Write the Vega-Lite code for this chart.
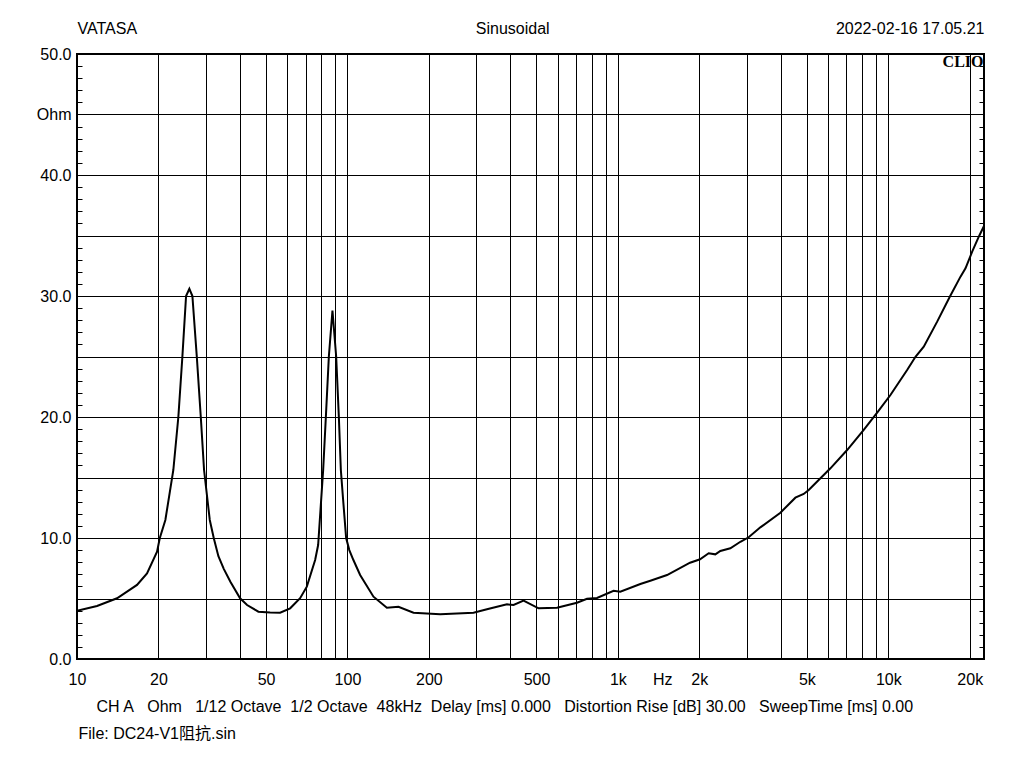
{
  "$schema": "https://vega.github.io/schema/vega-lite/v6.json",
  "autosize": {"type": "none"},
  "width": 907,
  "height": 605,
  "padding": {"left": 77, "top": 54, "right": 40, "bottom": 109},
  "background": "white",
  "config": {
    "view": {"stroke": "black", "strokeWidth": 2},
    "font": "Liberation Sans",
    "axis": {"labelFont": "Liberation Sans", "labelFontSize": 16, "labelColor": "black", "titleColor": "black", "gridColor": "black", "gridOpacity": 1, "gridWidth": 1, "tickColor": "black"}
  },
  "data": {"values": [
    {"f": 10, "z": 3.99}, {"f": 11.86, "z": 4.38}, {"f": 14.06, "z": 5.02}, {"f": 16.67, "z": 6.12},
    {"f": 18.15, "z": 7.08}, {"f": 19.77, "z": 8.87}, {"f": 20.23, "z": 9.98}, {"f": 21.22, "z": 11.49},
    {"f": 22.71, "z": 15.62}, {"f": 23.7, "z": 20.0}, {"f": 24.53, "z": 25.0}, {"f": 25.31, "z": 30.0},
    {"f": 26.03, "z": 30.6}, {"f": 26.71, "z": 30.0}, {"f": 27.73, "z": 25.0}, {"f": 28.69, "z": 20.0},
    {"f": 29.5, "z": 15.62}, {"f": 30.97, "z": 11.49}, {"f": 32.05, "z": 9.98}, {"f": 33.33, "z": 8.5},
    {"f": 34.89, "z": 7.45}, {"f": 36.91, "z": 6.39}, {"f": 40.09, "z": 5.02}, {"f": 42.55, "z": 4.46},
    {"f": 46.85, "z": 3.91}, {"f": 51.76, "z": 3.84}, {"f": 56.36, "z": 3.83}, {"f": 61.4, "z": 4.19},
    {"f": 66.83, "z": 5.02}, {"f": 70.76, "z": 5.98}, {"f": 75.95, "z": 8.18}, {"f": 77.92, "z": 9.42},
    {"f": 81.32, "z": 15.62}, {"f": 83.21, "z": 20.0}, {"f": 85.36, "z": 25.0}, {"f": 88.02, "z": 28.8},
    {"f": 90.84, "z": 25.0}, {"f": 92.95, "z": 20.0}, {"f": 94.54, "z": 15.62}, {"f": 96.4, "z": 13.14},
    {"f": 98.9, "z": 10.0}, {"f": 101.6, "z": 9.0}, {"f": 105.2, "z": 8.18}, {"f": 111.4, "z": 6.94}, {"f": 124.8, "z": 5.15},
    {"f": 139.9, "z": 4.24}, {"f": 154.4, "z": 4.32}, {"f": 175.5, "z": 3.83}, {"f": 220.3, "z": 3.69},
    {"f": 292.5, "z": 3.83}, {"f": 328.0, "z": 4.11}, {"f": 388.9, "z": 4.52}, {"f": 411.3, "z": 4.46},
    {"f": 447.8, "z": 4.82}, {"f": 508.9, "z": 4.19}, {"f": 595.3, "z": 4.24}, {"f": 705.8, "z": 4.65},
    {"f": 768.8, "z": 4.98}, {"f": 837.1, "z": 5.04}, {"f": 964.0, "z": 5.64}, {"f": 1020.7, "z": 5.56},
    {"f": 1210.6, "z": 6.2}, {"f": 1318.3, "z": 6.47}, {"f": 1519.6, "z": 6.94}, {"f": 1848.4, "z": 7.96},
    {"f": 2012.9, "z": 8.24}, {"f": 2166, "z": 8.74}, {"f": 2292.6, "z": 8.65}, {"f": 2392.5, "z": 8.93},
    {"f": 2605, "z": 9.15}, {"f": 2837.6, "z": 9.69}, {"f": 3045, "z": 10.06}, {"f": 3364, "z": 10.88},
    {"f": 3989, "z": 12.09}, {"f": 4532, "z": 13.33}, {"f": 4864, "z": 13.64}, {"f": 5077, "z": 13.97},
    {"f": 5527, "z": 14.79}, {"f": 6107, "z": 15.76}, {"f": 7041, "z": 17.27}, {"f": 8110, "z": 18.93},
    {"f": 9092, "z": 20.36}, {"f": 10181, "z": 21.82}, {"f": 11736, "z": 23.88}, {"f": 12600, "z": 24.98},
    {"f": 13521, "z": 25.81}, {"f": 15156, "z": 27.88}, {"f": 16876, "z": 29.94}, {"f": 18486, "z": 31.6},
    {"f": 19290, "z": 32.29}, {"f": 20418, "z": 33.66}, {"f": 21602, "z": 34.9}, {"f": 22580, "z": 35.8}
  ]},
  "layer": [
    {
      "mark": {"type": "line", "color": "black", "strokeWidth": 2, "clip": true},
      "encoding": {
        "x": {
          "field": "f", "type": "quantitative",
          "scale": {"type": "log", "domain": [10, 22580], "nice": false},
          "axis": {
            "orient": "bottom",
            "values": [10, 20, 30, 40, 50, 60, 70, 80, 90, 100, 200, 300, 400, 500, 600, 700, 800, 900, 1000, 1460, 2000, 3000, 4000, 5000, 6000, 7000, 8000, 9000, 10000, 20000],
            "labelExpr": "indexof([10,20,50,100,200,500], datum.value) >= 0 ? '' + datum.value : indexof([1000,2000,5000,10000,20000], datum.value) >= 0 ? (datum.value / 1000) + 'k' : datum.value == 1460 ? 'Hz' : ''",
            "grid": true,
            "gridOpacity": {"condition": {"test": "datum.value == 1460", "value": 0}, "value": 1},
            "ticks": false,
            "domain": false,
            "labelFlush": false,
            "labelOverlap": false,
            "labelBound": false,
            "labelPadding": 12,
            "title": "CH A\u00a0\u00a0\u00a0Ohm\u00a0\u00a0\u00a01/12 Octave\u00a0\u00a01/2 Octave\u00a0\u00a048kHz\u00a0\u00a0Delay [ms] 0.000\u00a0\u00a0\u00a0Distortion Rise [dB] 30.00\u00a0\u00a0\u00a0SweepTime [ms] 0.00",
            "titleX": 19,
            "titleY": 52,
            "titleAlign": "left",
            "titleBaseline": "alphabetic",
            "titleFont": "Liberation Sans",
            "titleFontSize": 16,
            "titleFontWeight": "normal"
          }
        },
        "y": {
          "field": "z", "type": "quantitative",
          "scale": {"domain": [0, 50], "nice": false},
          "axis": {
            "orient": "left",
            "values": [0,1,2,3,4,5,6,7,8,9,10,11,12,13,14,15,16,17,18,19,20,21,22,23,24,25,26,27,28,29,30,31,32,33,34,35,36,37,38,39,40,41,42,43,44,45,46,47,48,49,50],
            "labelExpr": "datum.value == 45 ? 'Ohm' : datum.value % 10 == 0 ? format(datum.value, '.1f') : ''",
            "grid": true,
            "gridOpacity": {"condition": {"test": "datum.value % 5 != 0", "value": 0}, "value": 1},
            "ticks": true,
            "tickSize": -5,
            "tickWidth": 1,
            "domain": false,
            "labelPadding": 11,
            "labelOverlap": false,
            "labelBound": false,
            "labelFlush": false,
            "title": null
          }
        }
      }
    },
    {
      "mark": {"type": "point", "opacity": 0},
      "encoding": {
        "x": {
          "field": "f", "type": "quantitative",
          "scale": {"type": "log", "domain": [10, 22580], "nice": false},
          "axis": {
            "orient": "top",
            "values": [10, 406.8, 22580],
            "labelExpr": "datum.value < 20 ? 'VATASA' : datum.value > 20000 ? '2022-02-16 17.05.21' : 'Sinusoidal'",
            "labelFlush": true,
            "labelOverlap": false,
            "labelBound": false,
            "ticks": false,
            "grid": false,
            "domain": false,
            "labelPadding": 18,
            "title": "File: DC24-V1阻抗.sin",
            "titleX": 1,
            "titleY": 684,
            "titleAlign": "left",
            "titleBaseline": "alphabetic",
            "titleFont": "Liberation Sans, Noto Sans CJK SC",
            "titleFontSize": 16,
            "titleFontWeight": "normal"
          }
        },
        "y": {
          "field": "z", "type": "quantitative",
          "scale": {"domain": [0, 50], "nice": false},
          "axis": {
            "orient": "right",
            "values": [0,1,2,3,4,5,6,7,8,9,10,11,12,13,14,15,16,17,18,19,20,21,22,23,24,25,26,27,28,29,30,31,32,33,34,35,36,37,38,39,40,41,42,43,44,45,46,47,48,49,50],
            "labels": false,
            "grid": false,
            "ticks": true,
            "tickSize": -5,
            "tickWidth": 1,
            "domain": false,
            "title": "CLIO",
            "titleAngle": 0,
            "titleX": -1,
            "titleY": 12,
            "titleAlign": "right",
            "titleBaseline": "alphabetic",
            "titleFont": "Liberation Serif",
            "titleFontSize": 16,
            "titleFontWeight": "bold"
          }
        }
      }
    }
  ],
  "resolve": {"axis": {"x": "independent", "y": "independent"}}
}
